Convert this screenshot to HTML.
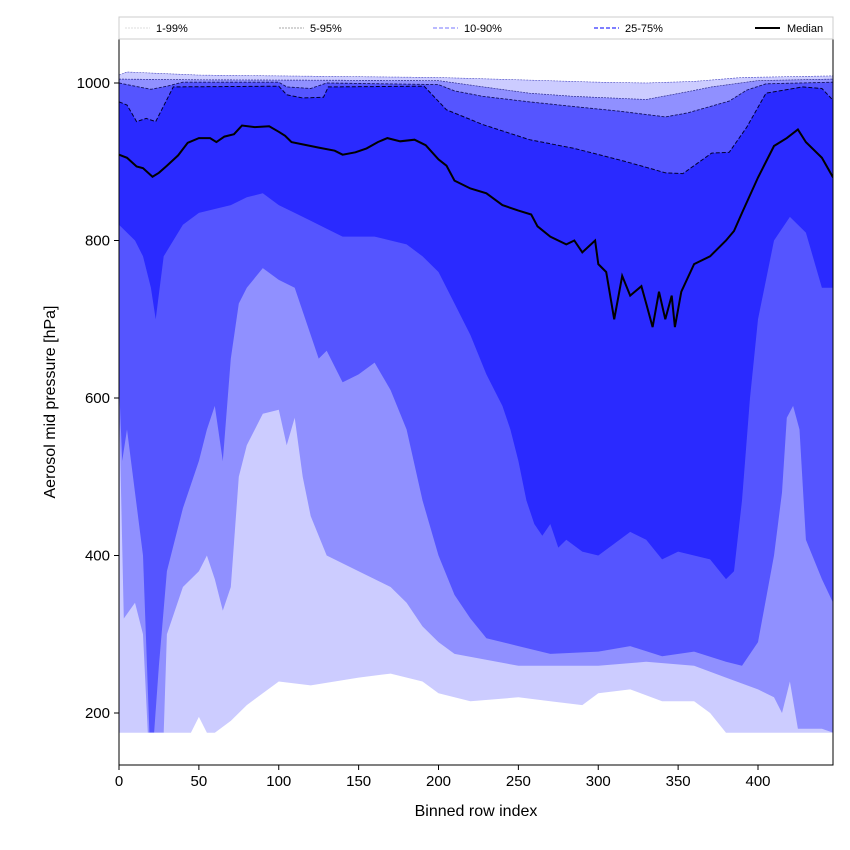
<!DOCTYPE html>
<html><head><meta charset="utf-8"><style>
html,body{margin:0;padding:0;background:#fff;}
svg{display:block;font-family:"Liberation Sans",sans-serif;}
</style></head><body>
<svg id="chart" width="850" height="850" viewBox="0 0 850 850" xmlns="http://www.w3.org/2000/svg">
<g id="bands"></g>
<g id="lines"></g>
<rect x="119" y="39" width="714" height="726" fill="none" stroke="#000" stroke-width="1"/>
<g id="xt"></g>
<g id="yt"></g>
<text x="476" y="816" font-size="16" text-anchor="middle">Binned row index</text>
<text transform="translate(55,402) rotate(-90)" font-size="16" text-anchor="middle">Aerosol mid pressure [hPa]</text>
<g>
<rect x="119" y="17" width="714" height="22" fill="#fff" stroke="#ccc"/>
<g><line x1="125" y1="28" x2="150" y2="28" stroke="#ddd" stroke-dasharray="2,1"/><text x="156" y="32" font-size="11">1-99%</text></g>
<g><line x1="279" y1="28" x2="304" y2="28" stroke="#aaa" stroke-dasharray="2,1"/><text x="310" y="32" font-size="11">5-95%</text></g>
<g><line x1="433" y1="28" x2="458" y2="28" stroke="#9090ff" stroke-width="1.2" stroke-dasharray="4,2"/><text x="464" y="32" font-size="11">10-90%</text></g>
<g><line x1="594" y1="28" x2="619" y2="28" stroke="#5555ff" stroke-width="1.5" stroke-dasharray="4,2"/><text x="625" y="32" font-size="11">25-75%</text></g>
<g><line x1="755" y1="28" x2="780" y2="28" stroke="#000" stroke-width="2"/><text x="787" y="32" font-size="11">Median</text></g>
</g>
</svg>
<script>
const p99=[[0,1010],[5,1014],[50,1010],[200,1007],[250,1004],[300,1001],[330,1000],[360,1002],[390,1007],[447,1009]];
const p95=[[0,1005],[50,1004],[200,1003],[228,995],[257,987],[285,983],[330,979],[356,989],[371,995],[400,1003],[447,1005]];
const p90=[[0,1000],[10,996],[20,992],[30,996],[40,1001],[100,1001],[105,995],[120,993],[130,1000],[200,998],[210,990],[228,983],[257,976],[285,970],[314,964],[342,957],[356,962],[382,977],[393,991],[405,999],[447,1001]];
const p75=[[0,976],[5,972],[11,951],[17,955],[23,951],[34,995],[100,996],[105,985],[115,981],[128,982],[131,995],[191,996],[205,966],[228,947],[257,928],[285,917],[314,902],[330,893],[342,886],[353,885],[371,911],[382,912],[393,944],[405,987],[428,995],[440,993],[447,978]];
const median=[[0,909],[5,905],[11,894],[15,892],[21,881],[25,886],[30,895],[37,908],[43,924],[50,930],[57,930],[61,925],[66,932],[72,935],[77,946],[85,944],[94,945],[100,938],[104,933],[108,925],[115,922],[125,918],[135,914],[140,909],[148,912],[155,917],[162,925],[168,930],[176,926],[185,928],[192,921],[200,903],[205,895],[210,876],[220,866],[230,860],[240,845],[250,838],[258,833],[262,818],[270,805],[280,795],[285,800],[290,785],[298,800],[300,770],[305,760],[310,700],[315,755],[320,730],[327,742],[330,720],[334,690],[338,735],[342,700],[346,730],[348,690],[352,735],[360,770],[370,780],[380,800],[385,812],[390,835],[400,880],[410,920],[418,930],[425,941],[430,925],[440,905],[447,880]];
const p25=[[0,820],[10,800],[15,780],[20,740],[23,700],[28,780],[40,820],[50,835],[60,840],[70,845],[80,855],[90,860],[100,845],[110,835],[120,825],[130,815],[140,805],[160,805],[170,800],[180,795],[190,780],[200,760],[210,720],[220,680],[230,630],[240,590],[245,560],[250,520],[255,470],[260,440],[265,425],[270,440],[275,410],[280,420],[290,405],[300,400],[310,415],[320,430],[330,420],[340,395],[350,405],[360,400],[370,395],[380,370],[385,380],[390,470],[395,600],[400,700],[410,800],[420,830],[430,810],[440,740],[447,740]];
const p10=[[0,620],[2,520],[5,560],[10,480],[15,400],[19,175],[22,175],[25,260],[30,380],[40,460],[50,520],[55,560],[60,590],[65,520],[70,650],[75,720],[80,740],[90,765],[100,750],[110,740],[120,680],[125,650],[130,660],[140,620],[150,630],[160,645],[170,610],[180,560],[190,470],[200,400],[210,350],[220,320],[230,295],[250,285],[270,275],[300,278],[320,285],[340,272],[360,278],[380,265],[390,260],[400,290],[410,400],[415,480],[418,575],[422,590],[426,560],[430,420],[440,370],[447,340]];
const p5=[[0,600],[3,320],[10,340],[15,300],[18,175],[28,175],[30,300],[40,360],[50,380],[55,400],[60,370],[65,330],[70,360],[75,500],[80,540],[90,580],[100,585],[105,540],[110,575],[115,500],[120,450],[130,400],[150,380],[170,360],[180,340],[190,310],[200,290],[210,275],[250,260],[300,260],[330,265],[360,260],[380,245],[400,230],[410,220],[415,200],[420,240],[425,180],[440,180],[447,175]];
const p1=[[0,175],[45,175],[50,195],[55,175],[60,175],[70,190],[80,210],[90,225],[100,240],[120,235],[150,245],[170,250],[190,240],[200,225],[220,215],[250,220],[270,215],[290,210],[300,225],[320,230],[340,215],[360,215],[370,200],[380,175],[447,175]];
const xTicks=[0,50,100,150,200,250,300,350,400];
const yTicks=[200,400,600,800,1000];

const NS='http://www.w3.org/2000/svg';
const X0=119,X1=833,Y0=39,Y1=765;
function sx(v){return X0+v*1.5975;}
function sy(v){return 83+(1000-v)*0.7875;}
function area(data,color,name){
  let d='M'+sx(data[0][0])+','+Y1;
  data.forEach(p=>{d+=' L'+sx(p[0]).toFixed(1)+','+sy(p[1]).toFixed(1);});
  d+=' L'+sx(data[data.length-1][0])+','+Y1+' Z';
  const el=document.createElementNS(NS,'path');
  el.setAttribute('d',d);el.setAttribute('fill',color);
  
  
  document.getElementById('bands').appendChild(el);
}
function line(data,color,w,name,dash){
  const el=document.createElementNS(NS,'polyline');
  el.setAttribute('points',data.map(p=>sx(p[0]).toFixed(1)+','+sy(p[1]).toFixed(1)).join(' '));
  el.setAttribute('fill','none');el.setAttribute('stroke',color);el.setAttribute('stroke-width',w);
  if(dash)el.setAttribute('stroke-dasharray',dash);
  
  
  document.getElementById('lines').appendChild(el);
}
const cp=document.createElementNS(NS,'clipPath');cp.setAttribute('id','clip');
const cr=document.createElementNS(NS,'rect');cr.setAttribute('x',X0);cr.setAttribute('y',Y0);cr.setAttribute('width',X1-X0);cr.setAttribute('height',Y1-Y0);
cp.appendChild(cr);document.getElementById('chart').appendChild(cp);
document.getElementById('bands').setAttribute('clip-path','url(#clip)');
document.getElementById('lines').setAttribute('clip-path','url(#clip)');

area(p99,'#ccccff','band-p99');
area(p95,'#9090ff','band-p95');
area(p90,'#5555ff','band-p90');
area(p75,'#2a2aff','band-p75');
area(p25,'#5555ff','band-p25');
area(p10,'#9090ff','band-p10');
area(p5,'#ccccff','band-p5');
area(p1,'#ffffff','band-p1');
line(p99,'#4848c0',0.6,'line-p99','2,1');
line(p95,'#303090',0.7,'line-p95','2,1');
line(p90,'#141460',0.9,'line-p90','3,1.5');
line(p75,'#000030',1,'line-p75','4,2');
line(median,'#000',2,'median-line');

const xt=document.getElementById('xt');
xTicks.forEach(v=>{
  const t=document.createElementNS(NS,'line');
  t.setAttribute('x1',sx(v));t.setAttribute('x2',sx(v));t.setAttribute('y1',Y1);t.setAttribute('y2',Y1+5);t.setAttribute('stroke','#000');
  
  
  xt.appendChild(t);
  const s=document.createElementNS(NS,'text');
  s.setAttribute('x',sx(v));s.setAttribute('y',Y1+21);s.setAttribute('font-size','15');s.setAttribute('text-anchor','middle');
  s.textContent=v;
  
  
  xt.appendChild(s);
});
const yt=document.getElementById('yt');
yTicks.forEach(v=>{
  const t=document.createElementNS(NS,'line');
  t.setAttribute('x1',X0-5);t.setAttribute('x2',X0);t.setAttribute('y1',sy(v));t.setAttribute('y2',sy(v));t.setAttribute('stroke','#000');
  
  
  yt.appendChild(t);
  const s=document.createElementNS(NS,'text');
  s.setAttribute('x',X0-9);s.setAttribute('y',sy(v)+5);s.setAttribute('font-size','15');s.setAttribute('text-anchor','end');
  s.textContent=v;
  
  
  yt.appendChild(s);
});
</script>
</body></html>
